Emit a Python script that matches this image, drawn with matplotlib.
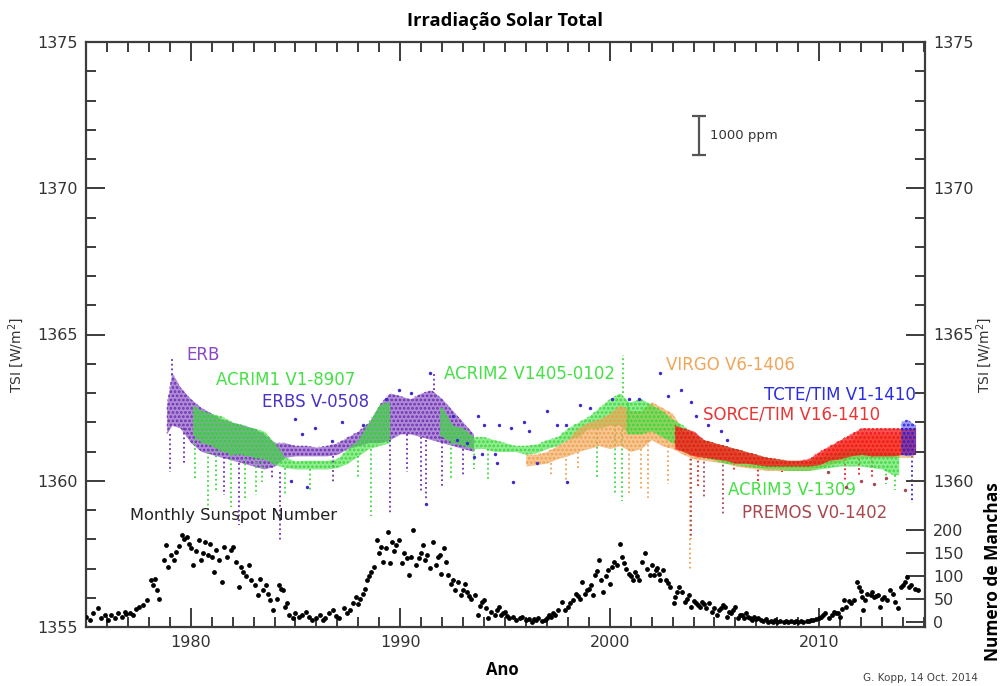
import matplotlib
matplotlib.use('Agg')
import matplotlib.pyplot as plt
from matplotlib.ticker import MultipleLocator, FixedLocator

# ---------------- data ----------------
ssn_year = [1975.0, 1975.2, 1975.35, 1975.55, 1975.7, 1975.9, 1976.05, 1976.2, 1976.4, 1976.55, 1976.7, 1976.85,
            1976.9, 1977.1, 1977.25, 1977.4, 1977.55, 1977.7, 1977.9, 1978.1, 1978.2, 1978.3, 1978.4, 1978.5,
            1978.7, 1978.8, 1978.9, 1979.05, 1979.2, 1979.3, 1979.45, 1979.6, 1979.7, 1979.8, 1979.9, 1980.0,
            1980.1, 1980.25, 1980.4, 1980.5, 1980.6, 1980.7, 1980.8, 1980.9, 1981.0, 1981.1, 1981.2, 1981.35,
            1981.5, 1981.6, 1981.75, 1981.9, 1982.0, 1982.15, 1982.3, 1982.4, 1982.5, 1982.65, 1982.8, 1982.9,
            1983.05, 1983.2, 1983.3, 1983.45, 1983.6, 1983.7, 1983.8, 1983.95, 1984.1, 1984.2, 1984.3, 1984.4,
            1984.5, 1984.6, 1984.7, 1984.9, 1985.0, 1985.15, 1985.3, 1985.5, 1985.65, 1985.8, 1986.0, 1986.15,
            1986.3, 1986.4, 1986.6, 1986.8, 1986.95, 1987.1, 1987.3, 1987.45, 1987.6, 1987.75, 1987.9, 1988.0,
            1988.1, 1988.2, 1988.3, 1988.4, 1988.5, 1988.6, 1988.75, 1988.9, 1989.0, 1989.1, 1989.2, 1989.3,
            1989.4, 1989.5, 1989.6, 1989.7, 1989.8, 1989.95, 1990.1, 1990.2, 1990.3, 1990.4, 1990.5, 1990.6,
            1990.75, 1990.9, 1991.0, 1991.1, 1991.2, 1991.3, 1991.4, 1991.55, 1991.7, 1991.8, 1991.9, 1991.95,
            1992.1, 1992.2, 1992.3, 1992.4, 1992.5, 1992.6, 1992.75, 1992.9, 1993.0, 1993.1, 1993.2, 1993.3,
            1993.4, 1993.55, 1993.7, 1993.8, 1993.9, 1994.0, 1994.1, 1994.2, 1994.35, 1994.5, 1994.6, 1994.7,
            1994.8, 1994.9, 1995.0, 1995.1, 1995.2, 1995.4, 1995.55, 1995.7, 1995.8, 1996.0, 1996.15, 1996.3,
            1996.4, 1996.5, 1996.6, 1996.75, 1996.9, 1997.0, 1997.1, 1997.2, 1997.3, 1997.4, 1997.55, 1997.7,
            1997.85, 1998.0, 1998.1, 1998.25, 1998.4, 1998.5, 1998.6, 1998.7, 1998.8, 1998.9, 1999.0, 1999.1,
            1999.2, 1999.3, 1999.4, 1999.5, 1999.6, 1999.7, 1999.8, 1999.9, 2000.0, 2000.1, 2000.2, 2000.35,
            2000.5, 2000.6, 2000.7, 2000.8, 2000.9, 2001.0, 2001.1, 2001.2, 2001.3, 2001.4, 2001.55, 2001.7,
            2001.8, 2001.9, 2002.0, 2002.1, 2002.2, 2002.25, 2002.35, 2002.4, 2002.55, 2002.7, 2002.8, 2002.9,
            2003.05, 2003.1, 2003.2, 2003.3, 2003.45, 2003.6, 2003.7, 2003.8, 2003.9, 2004.0, 2004.1, 2004.2,
            2004.3, 2004.4, 2004.5, 2004.6, 2004.75, 2004.9, 2005.0, 2005.1, 2005.2, 2005.3, 2005.4, 2005.5,
            2005.6, 2005.7, 2005.8, 2005.9, 2006.0, 2006.1, 2006.2, 2006.3, 2006.4, 2006.5, 2006.6, 2006.7,
            2006.8, 2006.9, 2007.0, 2007.1, 2007.2, 2007.3, 2007.45, 2007.55, 2007.7, 2007.8, 2007.9, 2008.0,
            2008.15, 2008.3, 2008.4, 2008.5, 2008.65, 2008.8, 2008.9, 2009.0, 2009.15, 2009.25, 2009.4, 2009.5,
            2009.6, 2009.7, 2009.85, 2010.0, 2010.1, 2010.2, 2010.3, 2010.45, 2010.6, 2010.7, 2010.8, 2010.9,
            2011.0, 2011.1, 2011.2, 2011.3, 2011.4, 2011.5, 2011.65, 2011.8, 2011.9, 2012.0, 2012.05, 2012.1,
            2012.2, 2012.3, 2012.45, 2012.5, 2012.6, 2012.7, 2012.8, 2012.9, 2013.0, 2013.1, 2013.25, 2013.4,
            2013.5, 2013.6, 2013.75, 2013.9, 2014.0, 2014.1, 2014.2, 2014.3, 2014.4, 2014.55, 2014.7]
ssn_value = [10, 4, 18, 30, 7, 14, 4, 14, 7, 18, 11, 22,
             17, 20, 14, 28, 33, 36, 47, 91, 80, 94, 70, 50,
             134, 167, 120, 145, 134, 152, 165, 188, 180, 184, 170, 160,
             123, 155, 178, 134, 150, 174, 145, 170, 140, 109, 156, 135,
             87, 163, 140, 156, 163, 130, 76, 120, 109, 100, 123, 91,
             80, 58, 94, 70, 80, 60, 47, 25, 50, 80, 72, 69,
             33, 40, 14, 7, 18, 10, 14, 22, 10, 4, 7, 14,
             3, 7, 18, 25, 12, 7, 29, 20, 25, 40, 54, 38,
             50, 60, 72, 91, 100, 109, 120, 178, 150, 163, 130, 160,
             196, 127, 174, 155, 167, 178, 127, 150, 138, 102, 140, 200,
             123, 138, 150, 167, 134, 145, 116, 174, 123, 140, 145, 105,
             160, 130, 102, 83, 90, 69, 87, 58, 70, 83, 65, 55,
             50, 58, 14, 35, 43, 47, 30, 7, 22, 14, 25, 33,
             14, 18, 22, 12, 7, 10, 4, 8, 11, 3, 6, 0,
             5, 4, 8, 1, 4, 7, 15, 11, 18, 14, 25, 43,
             25, 33, 40, 47, 61, 55, 50, 87, 61, 68, 72, 80,
             58, 102, 110, 134, 91, 65, 100, 112, 83, 120, 130, 123,
             170, 140, 127, 115, 105, 100, 91, 109, 100, 91, 130, 149,
             115, 102, 123, 102, 112, 116, 105, 91, 112, 91, 85, 76,
             40, 54, 65, 76, 65, 43, 50, 58, 33, 45, 40, 36,
             33, 43, 38, 29, 40, 22, 30, 14, 25, 29, 36, 33,
             11, 22, 18, 25, 33, 7, 15, 14, 7, 18, 11, 8,
             4, 10, 6, 7, 3, 1, 5, 0, 2, 0, 3, 0,
             2, 0, 1, 0, 2, 0, 1, 0, 1, 0, 2, 1,
             4, 3, 6, 7, 11, 15, 18, 7, 14, 22, 18, 20,
             11, 28, 47, 33, 45, 40, 47, 87, 76, 66, 54, 25,
             48, 61, 58, 65, 54, 57, 58, 33, 50, 54, 47, 69,
             60, 43, 29, 76, 80, 87, 98, 75, 80, 72, 69]

# TSI instrument bands (W/m^2): year, lower and upper edge of the dense point cloud
erb_year = [1978.85, 1979.1, 1979.5, 1980.0, 1980.5, 1981.0, 1981.5, 1982.0, 1982.5, 1983.0, 1983.5, 1984.0,
            1984.5, 1985.0, 1985.5, 1986.0, 1986.5, 1987.0, 1987.5, 1988.0, 1988.5, 1989.0, 1989.5, 1990.0,
            1990.5, 1991.0, 1991.5, 1992.0, 1992.5, 1993.0, 1993.5]
erb_lo = [1361.6, 1361.9, 1361.8, 1361.3, 1361.0, 1360.9, 1360.8, 1360.7, 1360.6, 1360.5, 1360.4, 1360.5,
          1360.8, 1360.85, 1360.85, 1360.85, 1360.85, 1360.9, 1361.1, 1361.2, 1361.3, 1361.3, 1361.4, 1361.6,
          1361.6, 1361.5, 1361.4, 1361.3, 1361.2, 1361.1, 1361.0]
erb_hi = [1362.6, 1363.7, 1363.2, 1362.8, 1362.5, 1362.3, 1362.1, 1362.0, 1361.9, 1361.8, 1361.6, 1361.3,
          1361.3, 1361.2, 1361.2, 1361.15, 1361.2, 1361.3, 1361.5, 1361.7, 1362.0, 1362.6, 1363.0, 1362.9,
          1362.8, 1363.0, 1363.1, 1362.8, 1362.4, 1362.0, 1361.6]

acrim1_year = [1980.1, 1980.5, 1981.0, 1981.5, 1982.0, 1982.5, 1983.0, 1983.5, 1984.0, 1984.5, 1985.0, 1985.5,
               1986.0, 1986.5, 1987.0, 1987.5, 1988.0, 1988.5, 1989.0, 1989.5]
acrim1_lo = [1361.6, 1361.3, 1361.2, 1361.0, 1360.9, 1360.9, 1360.8, 1360.75, 1360.55, 1360.45, 1360.4, 1360.4,
             1360.4, 1360.4, 1360.45, 1360.6, 1360.85, 1361.1, 1361.2, 1361.3]
acrim1_hi = [1362.6, 1362.4, 1362.3, 1362.2, 1362.0, 1361.9, 1361.8, 1361.7, 1361.3, 1360.8, 1360.67, 1360.7,
             1360.7, 1360.7, 1360.75, 1361.1, 1361.4, 1362.0, 1362.6, 1362.7]

acrim2_year = [1991.9, 1992.0, 1992.5, 1993.0, 1993.5, 1994.0, 1994.5, 1995.0, 1995.5, 1996.0, 1996.5, 1997.0,
               1997.5, 1998.0, 1998.5, 1999.0, 1999.5, 2000.0, 2000.5, 2000.9]
acrim2_lo = [1361.5, 1361.5, 1361.3, 1361.2, 1361.1, 1361.1, 1361.0, 1361.0, 1361.0, 1360.9, 1360.95, 1361.1,
             1361.2, 1361.4, 1361.5, 1361.8, 1361.8, 1361.9, 1361.9, 1361.6]
acrim2_hi = [1362.5, 1362.5, 1361.9, 1361.8, 1361.5, 1361.5, 1361.4, 1361.3, 1361.2, 1361.2, 1361.25, 1361.4,
             1361.5, 1361.8, 1362.0, 1362.2, 1362.5, 1362.8, 1363.0, 1362.7]

virgo_year = [1996.0, 1996.5, 1997.0, 1997.5, 1998.0, 1998.5, 1999.0, 1999.5, 2000.0, 2000.5, 2001.0, 2001.5,
              2002.0, 2002.5, 2003.0, 2003.5, 2004.0, 2004.5, 2005.0, 2005.5, 2006.0, 2006.5, 2007.0, 2007.5,
              2008.0, 2008.5, 2009.0, 2009.5, 2010.0, 2010.5, 2011.0, 2011.5, 2012.0, 2012.5, 2013.0, 2013.5,
              2014.0, 2014.5]
virgo_lo = [1360.5, 1360.55, 1360.6, 1360.75, 1360.85, 1361.0, 1361.1, 1361.2, 1361.1, 1361.2, 1361.0, 1361.1,
            1361.4, 1361.2, 1361.1, 1360.9, 1360.75, 1360.7, 1360.65, 1360.6, 1360.5, 1360.45, 1360.4, 1360.35,
            1360.35, 1360.35, 1360.35, 1360.35, 1360.45, 1360.55, 1360.65, 1360.75, 1360.8, 1360.8, 1360.8, 1360.8,
            1360.8, 1360.8]
virgo_hi = [1360.9, 1360.9, 1361.0, 1361.2, 1361.4, 1361.8, 1362.0, 1362.1, 1362.3, 1362.6, 1362.4, 1362.4,
            1362.7, 1362.5, 1362.3, 1361.7, 1361.5, 1361.3, 1361.2, 1361.1, 1361.0, 1360.9, 1360.8, 1360.7,
            1360.65, 1360.6, 1360.6, 1360.65, 1360.9, 1361.1, 1361.3, 1361.4, 1361.6, 1361.6, 1361.6, 1361.6,
            1361.6, 1361.6]

acrim3_year = [2000.8, 2001.0, 2001.5, 2002.0, 2002.5, 2003.0, 2003.5, 2004.0, 2004.5, 2005.0, 2005.5, 2006.0,
               2006.5, 2007.0, 2007.5, 2008.0, 2008.5, 2009.0, 2009.5, 2010.0, 2010.5, 2011.0, 2011.5, 2012.0,
               2012.5, 2013.0, 2013.5, 2013.8]
acrim3_lo = [1361.6, 1361.6, 1361.6, 1361.7, 1361.5, 1361.3, 1361.0, 1360.9, 1360.8, 1360.7, 1360.6, 1360.55,
             1360.5, 1360.45, 1360.4, 1360.4, 1360.35, 1360.35, 1360.35, 1360.4, 1360.45, 1360.5, 1360.5, 1360.5,
             1360.45, 1360.4, 1360.2, 1360.2]
acrim3_hi = [1362.7, 1362.7, 1362.8, 1362.6, 1362.4, 1362.1, 1361.9, 1361.6, 1361.4, 1361.3, 1361.2, 1361.1,
             1361.0, 1360.9, 1360.8, 1360.75, 1360.7, 1360.7, 1360.7, 1360.8, 1360.9, 1361.0, 1361.1, 1361.1,
             1361.0, 1361.0, 1361.0, 1360.9]

sorce_year = [2003.1, 2003.5, 2004.0, 2004.5, 2005.0, 2005.5, 2006.0, 2006.5, 2007.0, 2007.5, 2008.0, 2008.5,
              2009.0, 2009.5, 2010.0, 2010.5, 2011.0, 2011.5, 2012.0, 2012.5, 2013.0, 2013.5, 2014.0, 2014.6]
sorce_lo = [1361.1, 1361.0, 1360.85, 1360.8, 1360.75, 1360.7, 1360.6, 1360.6, 1360.55, 1360.5, 1360.5, 1360.5,
            1360.5, 1360.5, 1360.55, 1360.7, 1360.75, 1360.85, 1360.9, 1360.85, 1360.85, 1360.85, 1360.9, 1360.9]
sorce_hi = [1361.9, 1361.8, 1361.7, 1361.4, 1361.3, 1361.2, 1361.1, 1361.0, 1360.9, 1360.8, 1360.75, 1360.7,
            1360.7, 1360.75, 1361.0, 1361.2, 1361.4, 1361.6, 1361.8, 1361.8, 1361.8, 1361.8, 1361.8, 1361.8]

tcte_year = [2013.9, 2014.2, 2014.6]
tcte_lo = [1360.9, 1360.85, 1360.9]
tcte_hi = [1362.0, 1362.1, 1361.9]

erbs_year = [1984.8, 1985.0, 1985.3, 1985.55, 1985.95, 1986.75, 1987.2, 1988.2, 1989.3, 1989.96, 1990.5,
             1991.25, 1991.4, 1992.5, 1992.7, 1993.2, 1993.5, 1993.7, 1993.9, 1994.0, 1994.5, 1994.6, 1994.7,
             1995.3, 1995.4, 1995.9, 1996.15, 1996.55, 1997.0, 1997.5, 1997.9, 1997.95, 1998.6, 1999.05,
             2000.1, 2000.9, 2001.4, 2002.4, 2002.8, 2003.4, 2003.9, 2004.1, 2004.7, 2005.3, 2005.6]
erbs_tsi = [1360.0, 1362.1, 1361.6, 1359.8, 1361.8, 1361.35, 1362.0, 1361.9, 1362.8, 1363.1, 1363.0,
            1359.2, 1363.7, 1362.2, 1361.4, 1361.3, 1360.8, 1362.2, 1360.9, 1361.9, 1360.9, 1360.6, 1361.9,
            1361.8, 1359.95, 1362.0, 1361.7, 1360.6, 1362.4, 1361.9, 1361.9, 1359.95, 1362.6, 1362.5,
            1362.8, 1362.8, 1362.8, 1363.7, 1362.9, 1363.1, 1362.7, 1362.2, 1361.9, 1361.7, 1361.4]

premos_year = [2010.4, 2011.3, 2012.0, 2012.6, 2013.2, 2014.1]
premos_tsi = [1360.3, 1359.8, 1360.0, 1359.9, 1360.1, 1359.7]

# isolated excursions (dotted vertical streaks): year, from, to, instrument colour key
spike_year = [1979.0, 1979.1, 1979.7, 1980.2, 1980.8, 1981.2, 1981.6, 1981.9, 1982.3, 1982.6, 1983.1,
              1983.4, 1983.9, 1984.25, 1984.5, 1985.7, 1986.8, 1988.0, 1988.6, 1989.5, 1990.3, 1991.0,
              1991.25, 1991.6, 1992.0, 1992.4, 1993.0, 1993.5, 1994.2, 1997.2, 1997.9, 1998.5, 1999.4,
              2000.25, 2000.6, 2000.65, 2000.9, 2001.5, 2001.85, 2002.8, 2003.85, 2003.9, 2004.2, 2004.5,
              2005.4, 2005.95, 2007.1, 2008.2, 2011.25, 2011.9, 2012.5, 2013.2, 2013.6, 2014.45]
spike_from = [1361.6, 1363.6, 1361.8, 1361.6, 1361.0, 1361.2, 1360.8, 1360.9, 1360.6, 1360.9, 1360.8,
              1360.8, 1360.5, 1360.3, 1360.45, 1360.4, 1360.85, 1360.85, 1361.1, 1361.4, 1361.6, 1361.5,
              1361.4, 1363.1, 1361.5, 1361.3, 1361.1, 1361.1, 1361.1, 1360.6, 1360.75, 1361.0, 1361.8,
              1361.9, 1361.9, 1363.0, 1361.1, 1361.1, 1361.4, 1361.2, 1360.9, 1360.9, 1360.85, 1360.8,
              1360.7, 1360.6, 1360.55, 1360.5, 1360.75, 1360.9, 1360.85, 1360.4, 1360.2, 1360.85]
spike_to = [1360.3, 1364.2, 1360.6, 1360.05, 1359.0, 1359.6, 1359.5, 1359.1, 1358.5, 1359.3, 1359.5,
            1359.95, 1360.1, 1357.9, 1359.5, 1359.7, 1359.9, 1360.05, 1358.8, 1358.85, 1360.3, 1359.6,
            1359.3, 1363.7, 1359.8, 1360.05, 1360.15, 1360.4, 1360.05, 1360.2, 1360.0, 1360.4, 1360.05,
            1359.5, 1359.3, 1364.3, 1359.5, 1359.7, 1359.4, 1359.9, 1357.0, 1358.0, 1359.8, 1359.4,
            1358.8, 1360.3, 1360.0, 1360.3, 1359.95, 1360.2, 1360.1, 1359.9, 1359.7, 1359.3]
spike_key = ['erb', 'erb', 'erb', 'acrim', 'acrim', 'acrim', 'erb', 'acrim', 'erb', 'acrim', 'acrim',
             'acrim', 'erb', 'erb', 'acrim', 'acrim', 'erb', 'acrim', 'acrim', 'erb', 'erb', 'erb',
             'erb', 'erb', 'erb', 'acrim', 'erb', 'acrim', 'acrim', 'virgo', 'virgo', 'virgo', 'acrim',
             'acrim', 'acrim', 'acrim', 'virgo', 'virgo', 'virgo', 'virgo', 'virgo', 'premos', 'sorce', 'premos',
             'premos', 'sorce', 'sorce', 'sorce', 'sorce', 'sorce', 'sorce', 'acrim', 'acrim', 'tcte']

# ---------------- styling ----------------
C = {'erb': '#6E2EB4', 'erbs': '#3E2ACB', 'acrim': '#3ADC3A', 'virgo': '#F0A24E',
     'sorce': '#F41818', 'tcte': '#2424E6', 'premos': '#A8464E'}
LBL = {'erb': '#8848C8', 'erbs': '#4A34C4', 'acrim': '#44E044', 'virgo': '#EFA65A',
       'sorce': '#E83434', 'tcte': '#2C2CE0', 'premos': '#A8484E'}
AXC = '#3C3C3C'
FS_TICK = 11.5
FS_LAB = 12
plt.rcParams['hatch.linewidth'] = 1.3

fig = plt.figure(figsize=(10.02, 6.86), dpi=100)
ax = fig.add_axes([86 / 1002, 59 / 686, 839 / 1002, 585 / 686])
ax.set_xlim(1975, 2015.05)
ax.set_ylim(1355, 1375)

bands = [
    (erb_year, erb_lo, erb_hi, 'erb', 2, 0.55),
    (acrim1_year, acrim1_lo, acrim1_hi, 'acrim', 3, 0.55),
    (acrim2_year, acrim2_lo, acrim2_hi, 'acrim', 3, 0.55),
    (virgo_year, virgo_lo, virgo_hi, 'virgo', 4, 0.6),
    (acrim3_year, acrim3_lo, acrim3_hi, 'acrim', 4.5, 0.55),
    (sorce_year, sorce_lo, sorce_hi, 'sorce', 5, 0.75),
    (tcte_year, tcte_lo, tcte_hi, 'tcte', 6, 0.45),
]
for yrs, lo, hi, key, z, a in bands:
    ax.fill_between(yrs, lo, hi, color=C[key], alpha=a, linewidth=0, zorder=z)
    ax.fill_between(yrs, lo, hi, facecolor='none', edgecolor=C[key], hatch='....',
                    linewidth=0, zorder=z + 0.01)

for yr, a, b, key in zip(spike_year, spike_from, spike_to, spike_key):
    ax.plot([yr, yr], [a, b], color=C[key], lw=1.3, ls=(0, (1, 1.6)), zorder=3)

ax.scatter(erbs_year, erbs_tsi, s=6, color=C['erbs'], zorder=4.8, linewidths=0)
ax.scatter(premos_year, premos_tsi, s=6, color=C['premos'], zorder=5.5, linewidths=0)

# 1000 ppm scale bar
ax.errorbar([2004.25], [1371.8], yerr=[[0.68], [0.68]], fmt='none', ecolor='#555555',
            elinewidth=1.6, capsize=5, capthick=1.6)
ax.text(2004.8, 1371.8, '1000 ppm', fontsize=9.5, va='center', ha='left', color='#333333')

# series labels
ax.text(1979.8, 1364.3, 'ERB', color=LBL['erb'], fontsize=FS_LAB, va='center')
ax.text(1981.2, 1363.45, 'ACRIM1 V1-8907', color=LBL['acrim'], fontsize=FS_LAB, va='center')
ax.text(1983.4, 1362.7, 'ERBS V-0508', color=LBL['erbs'], fontsize=FS_LAB, va='center')
ax.text(1992.1, 1363.65, 'ACRIM2 V1405-0102', color=LBL['acrim'], fontsize=FS_LAB, va='center')
ax.text(2002.7, 1363.95, 'VIRGO V6-1406', color=LBL['virgo'], fontsize=FS_LAB, va='center')
ax.text(2007.35, 1362.95, 'TCTE/TIM V1-1410', color=LBL['tcte'], fontsize=FS_LAB, va='center')
ax.text(2004.45, 1362.25, 'SORCE/TIM V16-1410', color=LBL['sorce'], fontsize=FS_LAB, va='center')
ax.text(2005.65, 1359.7, 'ACRIM3 V-1309', color=LBL['acrim'], fontsize=FS_LAB, va='center')
ax.text(2006.3, 1358.9, 'PREMOS V0-1402', color=LBL['premos'], fontsize=FS_LAB, va='center')
ax.text(1977.1, 1358.8, 'Monthly Sunspot Number', color='#222222', fontsize=FS_LAB - 0.3, va='center')

# ticks on main axis
ax.xaxis.set_major_locator(FixedLocator([1980, 1990, 2000, 2010]))
ax.xaxis.set_minor_locator(MultipleLocator(1))
ax.yaxis.set_major_locator(MultipleLocator(5))
ax.yaxis.set_minor_locator(MultipleLocator(1))
ax.tick_params(axis='both', which='major', direction='in', length=14, width=1.4, color=AXC,
               labelsize=FS_TICK, labelcolor='#333333', pad=6)
ax.tick_params(axis='both', which='minor', direction='in', length=7, width=1.4, color=AXC)
ax.tick_params(axis='x', which='both', top=True)
ax.tick_params(axis='y', which='both', right=False)
for s in ax.spines.values():
    s.set_color(AXC)
    s.set_linewidth(1.6)

# right TSI axis (1360..1375)
axr = ax.twinx()
axr.set_ylim(1355, 1375)
axr.yaxis.set_major_locator(FixedLocator([1360, 1365, 1370, 1375]))
axr.yaxis.set_minor_locator(FixedLocator([v for v in range(1361, 1375) if v % 5 != 0]))
axr.tick_params(axis='y', which='major', direction='in', length=14, width=1.4, color=AXC,
                labelsize=FS_TICK, labelcolor='#333333', pad=6)
axr.tick_params(axis='y', which='minor', direction='in', length=7, width=1.4, color=AXC)
for s in axr.spines.values():
    s.set_visible(False)

# sunspot axis
axs = ax.twinx()
axs.set_ylim(-11.6, 1264)
axs.scatter(ssn_year, ssn_value, s=12, color='black', zorder=6, linewidths=0)
axs.yaxis.set_major_locator(FixedLocator([0, 50, 100, 150, 200]))
axs.tick_params(axis='y', which='major', direction='in', length=14, width=1.4, color=AXC,
                labelsize=FS_TICK, labelcolor='#333333', pad=6)
axs.tick_params(axis='y', which='minor', right=False)
for s in axs.spines.values():
    s.set_visible(False)
axs.set_xlim(1975, 2015.05)

fig.text(16 / 1002, 1 - 355 / 686, 'TSI [W/m$^2$]', fontsize=10, color='#333333', rotation=90,
         ha='center', va='center')
fig.text(984 / 1002, 1 - 355 / 686, 'TSI [W/m$^2$]', fontsize=10, color='#333333', rotation=90,
         ha='center', va='center')
fig.text(0.504, 0.969, 'Irradiação Solar Total', fontsize=13.2, fontweight='bold',
         family='Open Sans', ha='center', va='center')
fig.text(0.501, 0.023, 'Ano', fontsize=12, fontweight='bold', family='Open Sans', ha='center', va='center')
fig.text(0.991, 0.166, 'Numero de Manchas', fontsize=12.5, fontweight='bold', family='Open Sans',
         rotation=90, ha='center', va='center')
fig.text(0.919, 0.012, 'G. Kopp, 14 Oct. 2014', fontsize=7.5, color='#444444', ha='center', va='center')

fig.savefig('out.png', dpi=100)
